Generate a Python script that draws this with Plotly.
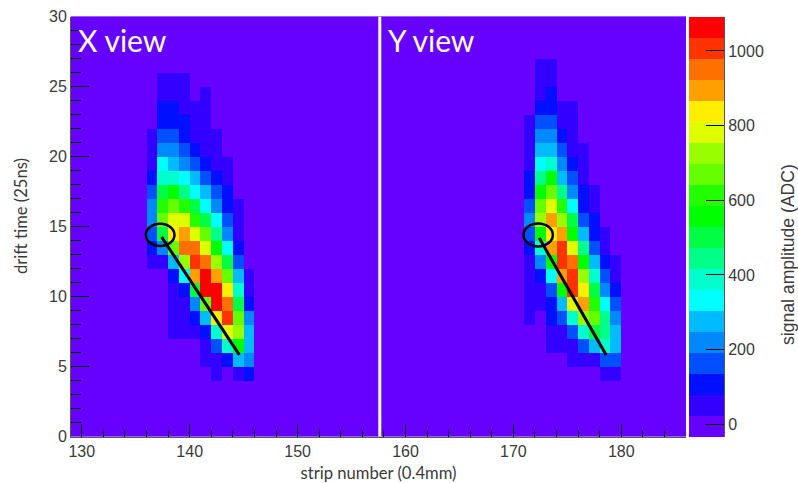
import numpy as np
import plotly.graph_objects as go

# Lower edge of each drift-time row, top to bottom
x_view_row_y = list(range(25, 3, -1))
y_view_row_y = list(range(26, 3, -1))

# X view: first strip of each row and ADC values along the row
x_view_first = [137, 137, 137, 137, 136, 136, 136, 136, 136, 136, 136, 136, 136, 136, 138, 138, 138, 138, 138, 141, 141, 142]
x_view_adc = [
    [50, 50, 50],
    [50, 50, 50, 0, 50],
    [107, 107, 50, 50, 50],
    [107, 107, 107, 50, 50],
    [50, 163, 163, 107, 50, 50, 50],
    [50, 219, 219, 163, 107, 50, 50],
    [50, 332, 275, 219, 163, 107, 50, 50],
    [107, 388, 388, 332, 275, 163, 107, 50],
    [163, 500, 557, 444, 332, 275, 163, 107],
    [219, 613, 669, 613, 500, 332, 219, 107, 50],
    [219, 669, 782, 782, 613, 500, 332, 163, 50],
    [163, 500, 838, 894, 782, 669, 444, 219, 50],
    [107, 219, 669, 950, 950, 782, 557, 332, 107],
    [50, 50, 275, 725, 1007, 950, 725, 500, 163],
    [107, 332, 894, 1063, 894, 669, 275, 50],
    [50, 107, 500, 1063, 1063, 838, 388, 50],
    [50, 50, 219, 669, 1063, 950, 500, 107],
    [50, 50, 107, 275, 838, 1007, 669, 219],
    [50, 50, 50, 107, 388, 782, 725, 275],
    [50, 163, 388, 557, 275],
    [50, 50, 107, 275, 219],
    [50, 0, 50, 107],
]

# Y view: first strip of each row and ADC values along the row
y_view_first = [172, 172, 172, 172, 171, 171, 171, 171, 171, 171, 171, 171, 171, 171, 171, 171, 171, 171, 171, 173, 173, 175, 178]
y_view_adc = [
    [50, 50],
    [50, 50],
    [50, 107],
    [107, 107, 50, 50],
    [50, 163, 163, 50, 50],
    [50, 219, 219, 107, 50],
    [50, 275, 275, 163, 50, 50],
    [50, 332, 388, 219, 107, 50],
    [107, 444, 557, 275, 163, 50],
    [107, 557, 669, 444, 219, 107, 50],
    [163, 669, 782, 613, 332, 107, 50],
    [219, 725, 894, 725, 500, 163, 107],
    [163, 557, 838, 894, 557, 275, 107, 50],
    [107, 388, 894, 1007, 782, 444, 163, 50],
    [50, 219, 557, 1007, 950, 557, 275, 107, 50],
    [50, 107, 332, 894, 1007, 725, 388, 163, 50],
    [50, 50, 163, 557, 1007, 838, 500, 219, 107],
    [50, 50, 107, 275, 782, 894, 613, 332, 163],
    [50, 0, 107, 163, 388, 725, 669, 444, 219],
    [50, 50, 163, 388, 500, 444, 275],
    [50, 50, 50, 163, 275, 388, 275],
    [50, 50, 50, 163, 163],
    [50, 50],
]

# Reconstructed track segments and vertex ellipses
track_x_view_x = [137.4, 144.6]
track_x_view_y = [14.25, 5.83]
track_y_view_x = [172.4, 178.6]
track_y_view_y = [14.17, 5.83]
vertex_x_view = (137.26, 14.4)
vertex_y_view = (172.3, 14.4)

strip_edges = list(range(129, 187))
time_edges = list(range(0, 31))
cbar_ticks = [0, 200, 400, 600, 800, 1000]

palette = ["#6600ff", "#3300ff", "#0010ff", "#0050ff", "#0088ff", "#00bbff", "#00ffff",
           "#00ffcc", "#00ff88", "#00ff44", "#00ff00", "#22ff00", "#66ff00", "#99ff00",
           "#ddff00", "#ffee00", "#ffa000", "#ff7000", "#ff3300", "#ff0000"]
zmin, zmax = -34, 1091

grid = np.zeros((len(time_edges) - 1, len(strip_edges) - 1))
def fill(row_y, firsts, rows):
    for y, s0, vals in zip(row_y, firsts, rows):
        for i, v in enumerate(vals):
            grid[y, s0 + i - 129] = v
fill(x_view_row_y, x_view_first, x_view_adc)
fill(y_view_row_y, y_view_first, y_view_adc)

n = len(palette)
colorscale = []
for i, c in enumerate(palette):
    colorscale += [[i / n, c], [(i + 1) / n, c]]

W, H = 798, 483
def fx(px):
    return px / W
def fy(py):
    return 1 - py / H
L, R, T, B = 71, 686, 16.5, 436.5
TXT = "#3a3a3a"
LABEL = "Liberation Sans"
TITLE = "Lato"

fig = go.Figure()
fig.add_trace(go.Heatmap(
    x=strip_edges, y=time_edges, z=grid, zmin=zmin, zmax=zmax, colorscale=colorscale,
    zsmooth=False, showscale=False,
))
fig.add_trace(go.Scatter(x=track_x_view_x, y=track_x_view_y, mode="lines",
                         line=dict(color="black", width=3), showlegend=False))
fig.add_trace(go.Scatter(x=track_y_view_x, y=track_y_view_y, mode="lines",
                         line=dict(color="black", width=3), showlegend=False))

# Colour key: one column of palette bands on its own axes
key_edges = np.linspace(zmin, zmax, n + 1)
key_levels = (key_edges[:-1] + key_edges[1:]) / 2
fig.add_trace(go.Heatmap(
    x=[0, 1], y=key_edges, z=key_levels.reshape(-1, 1), zmin=zmin, zmax=zmax,
    colorscale=colorscale, zsmooth=False, showscale=False, xaxis="x2", yaxis="y2",
))

shapes = [
    dict(type="line", xref="x", yref="y", x0=157.62, x1=157.62, y0=-0.12, y1=30,
         line=dict(color="white", width=3), layer="above"),
]
for (cx, cy), rx, ry in [(vertex_x_view, 1.33, 0.79), (vertex_y_view, 1.36, 0.82)]:
    shapes.append(dict(type="circle", xref="x", yref="y", x0=cx - rx, x1=cx + rx,
                       y0=cy - ry, y1=cy + ry, line=dict(color="black", width=2.5)))

def page_text(text, px, py, size, family, color=TXT, angle=0, anchor="center", weight=400):
    return dict(text=text, xref="paper", yref="paper", x=fx(px), y=fy(py), xanchor=anchor,
                yanchor="middle", textangle=angle, showarrow=False,
                font=dict(family=family, size=size, color=color, weight=weight))

annotations = [
    page_text("X view", 76, 40, 30, TITLE, "white", anchor="left"),
    page_text("Y view", 386, 40, 30, TITLE, "white", anchor="left"),
    page_text("signal amplitude (ADC)", 788, 255, 17.6, LABEL, angle=-90),
    page_text("drift time (25ns)", 21, 216, 16.6, TITLE, angle=-90),
]

fig.update_layout(
    width=W, height=H, autosize=False,
    margin=dict(l=0, r=0, t=0, b=0, pad=0),
    paper_bgcolor="white", plot_bgcolor="#6600ff", showlegend=False,
    shapes=shapes, annotations=annotations,
    xaxis=dict(
        domain=[fx(L), fx(R)], automargin=False,
        range=[129, 186], tickmode="linear", tick0=130, dtick=10, ticks="inside", ticklen=13,
        tickcolor="black", tickwidth=1, showgrid=False, zeroline=False,
        showline=True, linecolor="#555", linewidth=1,
        tickfont=dict(family=LABEL, size=16, color=TXT),
        minor=dict(tick0=130, dtick=2, ticks="inside", ticklen=7, tickcolor="black", showgrid=False),
        title=dict(text="strip number (0.4mm)", standoff=8, font=dict(family=TITLE, size=16.6, color=TXT)),
    ),
    yaxis=dict(
        domain=[fy(B), fy(T)], automargin=False,
        range=[0, 30], tickmode="linear", tick0=0, dtick=5, ticks="inside", ticklen=18,
        tickcolor="black", tickwidth=1, showgrid=False, zeroline=False,
        showline=True, linecolor="#555", linewidth=1,
        tickfont=dict(family=LABEL, size=16, color=TXT),
        minor=dict(tick0=0, dtick=1, ticks="inside", ticklen=10, tickcolor="black", showgrid=False),
    ),
    xaxis2=dict(
        domain=[fx(689), fx(724)], anchor="y2", range=[0, 1], automargin=False,
        showticklabels=False, ticks="", showgrid=False, zeroline=False,
    ),
    yaxis2=dict(
        domain=[fy(437), fy(17)], anchor="x2", side="right", range=[zmin, zmax], automargin=False,
        tickmode="array", tickvals=cbar_ticks, ticks="inside", ticklen=18, tickcolor="black", tickwidth=1,
        showgrid=False, zeroline=False, showline=True, linecolor="#555", linewidth=1,
        tickfont=dict(family=LABEL, size=16, color=TXT),
    ),
)
fig.write_html("out.html", config=dict(displayModeBar=False),
               post_script="document.body.style.margin='0';document.body.style.overflow='hidden';")
